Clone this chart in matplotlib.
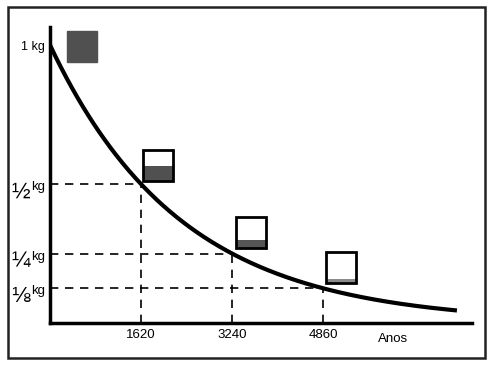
import numpy as np
import matplotlib.pyplot as plt
from matplotlib.patches import Rectangle

plt.rcParams['font.family'] = ['Liberation Sans', 'DejaVu Sans']

# data
half_life = 1620
years = [1620, 3240, 4860]
masses = [1, 0.5, 0.25, 0.125]
year_labels = ["1620", "3240", "4860"]
fraction_labels = ["\u00bd", "\u00bc", "\u215b"]

t = np.linspace(0, 7245, 300)
m = 0.5 ** (t / half_life)

fig = plt.figure(figsize=(4.96, 3.66), dpi=100)
ax = fig.add_axes([50/496, 1 - 323/366, 422/496, 296/366])

# outer frame
fig.patches.append(Rectangle((8/496, 1 - 358/366), 477/496, 351/366,
                             transform=fig.transFigure, fill=False,
                             edgecolor='#222222', linewidth=1.8))

ax.plot(t, m, color='black', linewidth=3, solid_capstyle='butt')

for yr, ms in zip(years, masses[1:]):
    ax.plot([0, yr], [ms, ms], color='black', linewidth=1.2, dashes=(5, 4))
    ax.plot([yr, yr], [0, ms], color='black', linewidth=1.2, dashes=(5, 4))

# squares showing remaining mass
w, h = 530, 0.110
offsets = [(303, 0.939), (1656, 0.511), (3311, 0.270), (4914, 0.144)]
fills = ['#505050', '#505050', '#555555', '#8a8a8a']
for (x0, y0), ms, fc, i in zip(offsets, masses, fills, range(4)):
    ax.add_patch(Rectangle((x0, y0), w, h * ms, facecolor=fc, edgecolor='none'))
    if i == 0:
        ax.add_patch(Rectangle((x0, y0), w, h, facecolor='none',
                               edgecolor='#505050', linewidth=1))
    else:
        ax.add_patch(Rectangle((x0, y0), w, h, facecolor='none',
                               edgecolor='black', linewidth=2))

ax.set_xlim(0, 7513)
ax.set_ylim(0, 1.065)
ax.spines['top'].set_visible(False)
ax.spines['right'].set_visible(False)
ax.spines['left'].set_linewidth(2.5)
ax.spines['bottom'].set_linewidth(2.5)

ax.set_xticks(years)
ax.set_xticklabels(year_labels, fontsize=9.5)
ax.set_yticks(masses)
ax.set_yticklabels(["1 kg", "", "", ""], fontsize=9)
ax.tick_params(length=0, pad=4)

# fraction labels: 1/2 kg, 1/4 kg, 1/8 kg
ytr = ax.get_yaxis_transform()
for ms, frac in zip(masses[1:], fraction_labels):
    kw = dict(xy=(0, ms), xycoords=ytr, textcoords='offset pixels',
              va='baseline', color='black')
    ax.annotate(frac, xytext=(-20, -14), ha='right', fontsize=16, **kw)
    ax.annotate("kg", xytext=(-19, -6), ha='left', fontsize=9.5, **kw)

ax.text(6110, -0.036, "Anos", fontsize=9.5, ha='center', va='top')

fig.savefig("out.png", dpi=100)
